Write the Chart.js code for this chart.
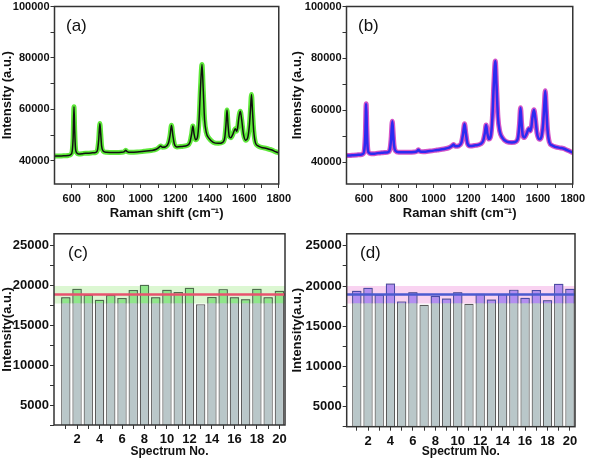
<!DOCTYPE html>
<html>
<head>
<meta charset="utf-8">
<script src="https://cdn.jsdelivr.net/npm/chart.js@4.4.1/dist/chart.umd.min.js"></script>
<style>
  html, body { margin: 0; padding: 0; background: #fff; }
  #wrap { position: relative; width: 589px; height: 462px; overflow: hidden; }
  canvas { position: absolute; }
</style>
</head>
<body>
<div id="wrap">
  <canvas id="chartA" width="295" height="225" style="left:0;top:0"></canvas>
  <canvas id="chartB" width="299" height="225" style="left:290px;top:0"></canvas>
  <canvas id="chartC" width="295" height="237" style="left:0;top:225px"></canvas>
  <canvas id="chartD" width="299" height="237" style="left:290px;top:225px"></canvas>
</div>
<script>
// Data: averaged Raman spectra (a), (b)
const ramanShift = [500,520,540,560,580,595,603,608,613,617,621,628,640,660,680,700,720,740,750,756,
  763,768,773,782,800,850,890,905,913,921,940,980,1020,1060,1090,1105,1115,1125,1145,1160,
  1170,1178,1186,1195,1210,1240,1270,1285,1295,1302,1309,1318,1328,1338,1346,1355,1362,1370,1380,1395,
  1420,1450,1475,1487,1494,1500,1506,1513,1522,1535,1548,1556,1562,1569,1577,1585,1595,1608,1620,1630,
  1636,1642,1648,1655,1665,1680,1700,1730,1745,1760,1780,1800];

const intensityA = [41800,41900,41900,42000,42100,42500,44000,49000,61000,52000,
  45500,43200,42700,42800,43000,43000,43100,43300,44500,48000,
  54500,50500,45800,43800,43300,43200,43300,43600,44100,43600,
  43300,43400,43700,44000,44500,45200,45800,45300,45500,46800,
  50000,53800,50000,46500,45400,45600,46000,47200,50500,53500,
  50500,48200,49000,56000,68000,77500,68000,56000,51000,48800,
  47200,46800,47200,49000,54000,59800,54000,49500,49000,50500,
  52500,51500,53000,57000,59300,56000,50500,48000,49000,54000,
  60000,65800,59000,51500,47000,45800,45200,44800,44500,44200,
  43600,43100];

const intensityB = [42600,42600,42700,42800,42900,43200,45000,50500,62500,53000,
  46000,43700,43300,43300,43500,43600,43700,43900,45200,48800,
  55800,51300,46500,44300,43800,43800,43900,44200,44800,44200,
  44000,44300,44700,45100,45600,46200,46800,46100,46300,47500,
  51000,54800,51000,47200,46200,46500,47000,48200,51300,54300,
  51300,48900,49800,57000,69500,79000,69500,57500,52000,49500,
  47900,47600,48000,50000,55000,61000,55000,50200,49500,51000,
  53000,52000,53500,57500,60200,57000,51000,48800,49800,55000,
  61500,67500,60500,52500,47800,46500,45900,45500,45300,44900,
  44300,43700];

// Data: intensity of 20 spectra (c), (d)
const specNo = [1,2,3,4,5,6,7,8,9,10,11,12,13,14,15,16,17,18,19,20];
const barsC = [18520,19590,18850,18230,18810,18440,19430,20090,18520,19470,
  19180,19720,17650,18560,19550,18520,18270,19590,18520,19350];
const barsD = [19420,19790,18930,20320,18070,19220,17670,18770,18440,19220,
  17790,19050,18320,18970,19550,18530,19510,18230,20280,19670];
const meanC = 18870;
const bandC = [17750, 19950];
const meanD = 18950;
const bandD = [17840, 20000];

// Tick positions (labels only on every other one)
const ticksShift = [600,700,800,900,1000,1100,1200,1300,1400,1500,1600,1700,1800];
const ticksSpectrum = [40000,50000,60000,70000,80000,90000,100000];
const ticksSpecNo = specNo;
const ticksCount = [2500,5000,7500,10000,12500,15000,17500,20000,22500,25000];

Chart.defaults.font.family = '"Liberation Sans", Arial, sans-serif';
Chart.defaults.color = '#111';

// Box around the plot area + panel letter
const framePlugin = {
  id: 'frame',
  afterDraw(chart, args, opts) {
    const { ctx, chartArea: a } = chart;
    ctx.save();
    ctx.strokeStyle = '#333';
    ctx.lineWidth = 1.5;
    ctx.strokeRect(a.left, a.top, a.right - a.left, a.bottom - a.top);
    ctx.fillStyle = '#111';
    ctx.font = '17px "Liberation Sans", Arial, sans-serif';
    ctx.textBaseline = 'alphabetic';
    ctx.fillText(opts.label, a.left + opts.dx, a.top + opts.dy);
    ctx.restore();
  }
};

const setTicks = list => axis => { axis.ticks = list.map(value => ({ value })); };

const tickGrid = { drawOnChartArea: false, tickLength: 4, tickColor: '#333', tickWidth: 1 };

const spectrumChart = (id, values, o) => {
  const pts = ramanShift.map((x, i) => ({ x, y: values[i] }));
  return new Chart(document.getElementById(id), {
    type: 'line',
    data: {
      datasets: [
        { data: pts, borderColor: o.line, borderWidth: o.lineWidth, pointRadius: 0, cubicInterpolationMode: 'monotone', order: 0 },
        { data: pts, borderColor: o.halo, borderWidth: 5, pointRadius: 0, cubicInterpolationMode: 'monotone', order: 1 }
      ]
    },
    options: {
      responsive: false, animation: false, devicePixelRatio: 1,
      layout: { padding: o.pad },
      plugins: { legend: { display: false }, tooltip: { enabled: false }, frame: o.frame },
      scales: {
        x: {
          type: 'linear', min: 500, max: 1800, bounds: 'data',
          afterBuildTicks: setTicks(ticksShift),
          afterFit: s => { s.height = 41; },
          grid: tickGrid, border: { display: false },
          ticks: { autoSkip: false, maxRotation: 0, padding: 4, font: { size: 11, weight: 'bold' },
            callback: v => v % 200 === 0 ? String(v) : '' },
          title: { display: true, text: 'Raman shift (cm⁻¹)', font: { size: 13, weight: 'bold' }, padding: { top: 0, bottom: 4 } }
        },
        y: {
          type: 'linear', min: o.yMin, max: 100000, bounds: 'data',
          afterBuildTicks: setTicks(ticksSpectrum),
          afterFit: s => { s.width = o.yWidth; },
          grid: tickGrid, border: { display: false },
          ticks: { autoSkip: false, padding: 1, font: { size: 11, weight: 'bold', lineHeight: 1 },
            callback: v => v % 20000 === 0 ? String(v) : '' },
          title: { display: true, text: 'Intensity (a.u.)', font: { size: 13, weight: 'bold' }, padding: { top: 0, bottom: 0 } }
        }
      }
    },
    plugins: [framePlugin]
  });
};

const barChart = (id, values, o) => {
  const barOpts = { grouped: false, barPercentage: 0.83, categoryPercentage: 1, borderWidth: 1.2 };
  return new Chart(document.getElementById(id), {
    type: 'bar',
    data: {
      datasets: [
        { type: 'line', data: [{ x: o.xMin, y: o.mean }, { x: o.xMax, y: o.mean }],
          borderColor: o.meanColor, borderWidth: 2.5, pointRadius: 0, order: 0 },
        { ...barOpts, data: specNo.map((x, i) => ({ x, y: values[i] > o.band[0] ? [o.band[0], values[i]] : null })),
          backgroundColor: o.top, borderColor: o.topEdge, borderSkipped: 'start', order: 1 },
        { ...barOpts, data: specNo.map((x, i) => ({ x, y: values[i] })),
          backgroundColor: '#b9c7c9', borderColor: '#5b5b5b', order: 2 },
        { type: 'line', data: [{ x: o.xMin, y: o.band[1] }, { x: o.xMax, y: o.band[1] }],
          borderColor: 'rgba(0,0,0,0)', pointRadius: 0, fill: { value: o.band[0] }, backgroundColor: o.bandColor, order: 3 }
      ]
    },
    options: {
      responsive: false, animation: false, devicePixelRatio: 1,
      layout: { padding: o.pad },
      plugins: { legend: { display: false }, tooltip: { enabled: false }, frame: o.frame },
      scales: {
        x: {
          type: 'linear', min: o.xMin, max: o.xMax, offset: false, bounds: 'data',
          afterBuildTicks: setTicks(ticksSpecNo),
          afterFit: s => { s.height = o.xHeight; },
          grid: { ...tickGrid, offset: false }, border: { display: false },
          ticks: { autoSkip: false, maxRotation: 0, padding: 3, font: { size: 13, weight: 'bold' },
            callback: v => v % 2 === 0 ? String(v) : '' },
          title: { display: true, text: 'Spectrum No.', font: { size: 12, weight: 'bold' }, padding: { top: 0, bottom: 3 } }
        },
        y: {
          type: 'linear', min: 2500, max: 26500, bounds: 'data',
          afterBuildTicks: setTicks(ticksCount),
          afterFit: s => { s.width = o.yWidth; },
          grid: tickGrid, border: { display: false },
          ticks: { autoSkip: false, padding: 1, font: { size: 13, weight: 'bold' },
            callback: v => v % 5000 === 0 ? String(v) : '' },
          title: { display: true, text: 'Intensity(a.u.)', font: { size: 13, weight: 'bold' }, padding: { top: 0, bottom: 0 } }
        }
      }
    },
    plugins: [framePlugin]
  });
};

spectrumChart('chartA', intensityA, {
  line: '#111', lineWidth: 1.5, halo: '#5ee83a', yMin: 31000, yWidth: 54.5,
  pad: { top: 6, right: 12, bottom: 0, left: 0 },
  frame: { label: '(a)', dx: 11.5, dy: 24.5 }
});

spectrumChart('chartB', intensityB, {
  line: '#2b2bf0', lineWidth: 2.5, halo: '#d455c8', yMin: 31600, yWidth: 56.5,
  pad: { top: 6, right: 14.7, bottom: 0, left: 0 },
  frame: { label: '(b)', dx: 11.5, dy: 24.5 }
});

barChart('chartC', barsC, {
  xMin: -0.05, xMax: 20.5, mean: meanC, band: bandC,
  meanColor: '#e8536e', top: '#8fe68a', topEdge: '#4d6e4d', bandColor: '#dcf7d2',
  yWidth: 54, xHeight: 37,
  pad: { top: 6, right: 10, bottom: 0, left: 0 },
  frame: { label: '(c)', dx: 14, dy: 24.4 }
});

barChart('chartD', barsD, {
  xMin: 0.1, xMax: 20.45, mean: meanD, band: bandD,
  meanColor: '#4b5bcf', top: '#b38ef0', topEdge: '#4c4aa8', bandColor: '#f9d3f1',
  yWidth: 56.7, xHeight: 35.3,
  pad: { top: 6.7, right: 14, bottom: 0, left: 0 },
  frame: { label: '(d)', dx: 13.3, dy: 23.7 }
});
</script>
</body>
</html>
